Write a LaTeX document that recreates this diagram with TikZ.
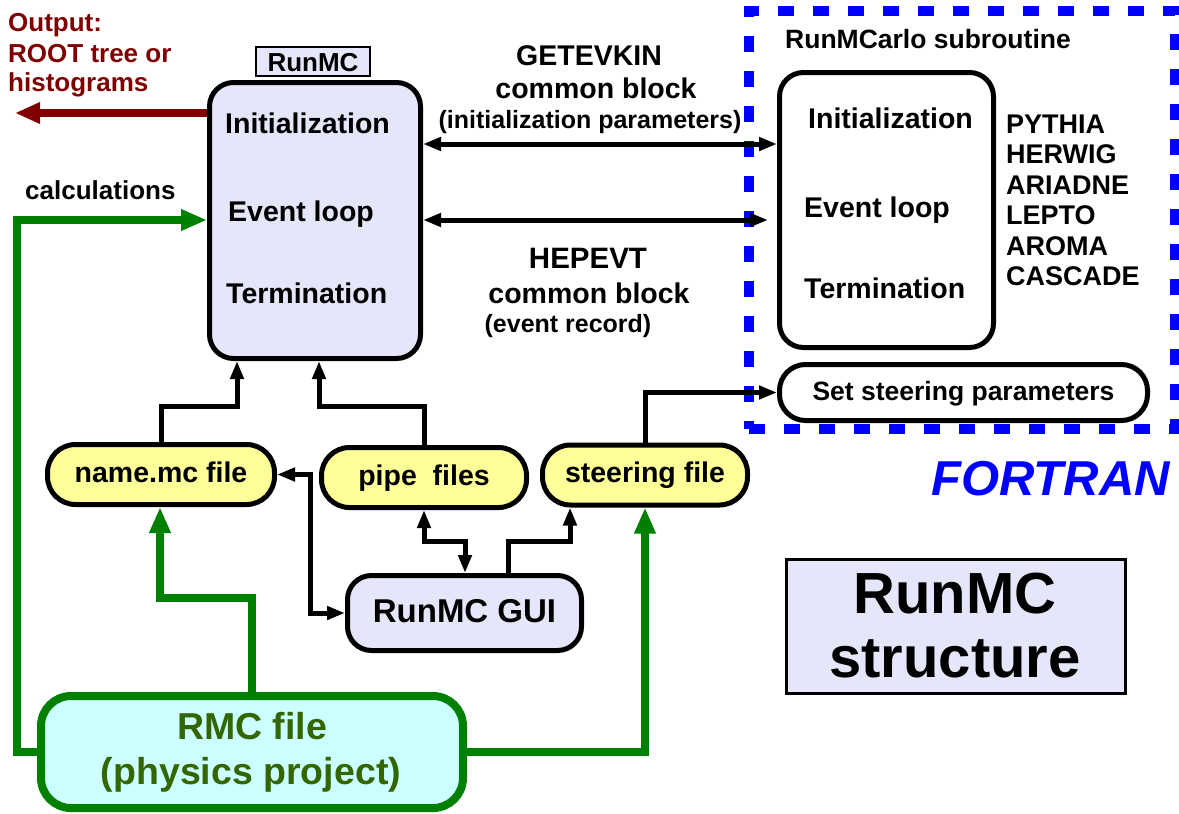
\documentclass[tikz,border=0pt]{standalone}
\usepackage{fontspec}
\setmainfont{Liberation Sans}
\usetikzlibrary{arrows.meta}
\definecolor{lav}{HTML}{E6E6FA}
\definecolor{yel}{HTML}{FFFF99}
\definecolor{cyl}{HTML}{CCFFFF}
\definecolor{grn}{HTML}{008000}
\definecolor{dred}{HTML}{800000}
\definecolor{olv}{HTML}{336600}
\newcommand\fsz[1]{\fontsize{#1}{#1}\selectfont}
\begin{document}
\begin{tikzpicture}[x=1pt,y=-1pt,
  txt/.style={inner sep=0pt,anchor=base,font=\bfseries\fsz{28.5}},
  txtw/.style={txt,anchor=base west},
  bigbox/.style={draw=black,line width=5pt,rounded corners=24pt,inner sep=0pt},
  pill/.style={draw=black,line width=5pt,fill=yel,rounded corners=28pt,inner sep=0pt,
    minimum width=227pt,minimum height=60pt,text height=15pt,text depth=0pt,font=\bfseries\fsz{28.5}},
  barr/.style={line width=5pt,-{Triangle[length=18pt,width=13pt]}},
  bdarr/.style={line width=5pt,{Triangle[length=18pt,width=13pt]}-{Triangle[length=18pt,width=13pt]}},
  garr/.style={line width=8pt,draw=grn,-{Triangle[length=26pt,width=20pt]}},
  rarr/.style={line width=8pt,draw=dred,-{Triangle[length=25pt,width=20pt]}}]
\useasboundingbox (0,0) rectangle (1179,814);

% FORTRAN dashed frame
\node (fbox) [draw=blue,line width=9.5pt,dash pattern=on 16pt off 19pt,
  minimum width=426pt,minimum height=418pt,inner sep=0pt] at (962,220) {};
\node (fortran) [inner sep=0pt,anchor=base east,text=blue,font=\bfseries\itshape\fsz{49}] at (1170,495) {FORTRAN};

% main RunMC box
\node (main) [bigbox,fill=lav,minimum width=211pt,minimum height=276pt] at (315,220.5) {};
\node (tab) [draw=black,line width=2.5pt,fill=lav,inner sep=0pt,minimum width=114pt,minimum height=29pt,
  text height=19pt,text depth=0pt,font=\bfseries\fsz{26}] at (313,61.5) {RunMC};
\node (mInit) [txtw] at (225,133) {Initialization};
\node (mLoop) [txtw] at (228,221) {Event loop};
\node (mTerm) [txtw] at (226,303) {Termination};

% output and calculations
\node (out1) [txtw,text=dred,font=\bfseries\fsz{26}] at (8,31) {Output:};
\node (out2) [txtw,text=dred,font=\bfseries\fsz{26}] at (8,62) {ROOT tree or};
\node (out3) [txtw,text=dred,font=\bfseries\fsz{26}] at (8,91) {histograms};
\node (calc) [txtw,font=\bfseries\fsz{26}] at (25,199) {calculations};

% common blocks
\node (get1) [txt] at (589,65) {GETEVKIN};
\node (get2) [txt] at (596,98) {common block};
\node (get3) [txt,font=\bfseries\fsz{25}] at (590,128) {(initialization parameters)};
\node (hep1) [txt,font=\bfseries\fsz{29.5}] at (588,268) {HEPEVT};
\node (hep2) [txt] at (589,303) {common block};
\node (hep3) [txt,font=\bfseries\fsz{25}] at (568,332) {(event record)};

% RunMCarlo
\node (mcTitle) [txtw,font=\bfseries\fsz{26.5}] at (785,48) {RunMCarlo subroutine};
\node (mc) [bigbox,fill=white,minimum width=214pt,minimum height=275pt] at (886.5,210) {};
\node (mcInit) [txtw] at (808,128) {Initialization};
\node (mcLoop) [txtw] at (804,217) {Event loop};
\node (mcTerm) [txtw] at (804,298) {Termination};
\node (g1) [txtw,font=\bfseries\fsz{27}] at (1006,133) {PYTHIA};
\node (g2) [txtw,font=\bfseries\fsz{27}] at (1006,163) {HERWIG};
\node (g3) [txtw,font=\bfseries\fsz{27}] at (1006,194) {ARIADNE};
\node (g4) [txtw,font=\bfseries\fsz{27}] at (1006,224) {LEPTO};
\node (g5) [txtw,font=\bfseries\fsz{27}] at (1006,255) {AROMA};
\node (g6) [txtw,font=\bfseries\fsz{27}] at (1006,285) {CASCADE};
\node (setsteer) [pill,fill=white,minimum width=368pt,minimum height=56pt,rounded corners=26pt,
  font=\bfseries\fsz{26.5}] at (963.5,392.5) {Set steering parameters};

% files
\node (namemc) [pill] at (161,474.5) {name.mc file};
\node (pipe) [pill,minimum width=205pt] at (424,477.5) {pipe\ \ files};
\node (steer) [pill,minimum width=205pt,text height=14pt] at (645,475) {steering file};
\node (gui) [bigbox,fill=lav,minimum width=234pt,minimum height=75pt,text height=18pt,text depth=0pt,
  font=\bfseries\fsz{33}] at (464.5,613) {RunMC GUI\hspace{14pt}};
\node (rmc) [draw=grn,line width=8pt,fill=cyl,rounded corners=30pt,minimum width=422pt,minimum height=112pt,inner sep=0pt] at (252,752) {};
\node (rmcT1) [txt,text=olv,font=\bfseries\fsz{37.5}] at (252,739) {RMC file};
\node (rmcT2) [txt,text=olv,font=\bfseries\fsz{37.5}] at (251,784) {(physics project)};

% structure box
\node (struct) [draw=black,line width=3pt,fill=lav,minimum width=339pt,minimum height=134pt,inner sep=0pt] at (956,626.5) {};
\node (st1) [txt,font=\bfseries\fsz{58}] at (955,613) {RunMC};
\node (st2) [txt,font=\bfseries\fsz{58}] at (955,677) {structure};

% helper coordinates
\coordinate (c1) at (237,406);
\coordinate (c2) at (319,406);
\coordinate (c3) at (310,540);
\coordinate (c4) at (465,541);
\coordinate (c5) at (508,541);
\coordinate (c6) at (570,541);
\coordinate (c7) at (160,598);
\coordinate (c8) at (17,220);
\coordinate (c9) at (0,113);
\coordinate (c10) at (15,113);
\coordinate (c11) at (0,144);
\coordinate (c12) at (0,220);
\coordinate (c13) at (768,220);

% connectors
\draw[rarr] (main.west |- c9) -- (c10);
\draw[bdarr] (main.east |- c11) -- (mc.west |- c11);
\draw[bdarr] (main.east |- c12) -- (c13);
\draw[barr] (namemc.north) |- (c1) -- (c1 |- main.south);
\draw[barr] (pipe.north) |- (c2) -- (c2 |- main.south);
\draw[barr] (steer.north) |- (setsteer.west);
\draw[bdarr] (namemc.east) -| (c3) |- (gui.west);
\draw[bdarr] (pipe.south) |- (c4) -- (c4 |- gui.north);
\draw[barr] (c5 |- gui.north) -- (c5) -| (c6 |- steer.south);
\draw[garr] (rmc.north) |- (c7) -- (c7 |- namemc.south);
\draw[garr] (rmc.east) -| (steer.south);
\draw[garr] (rmc.west) -| (c8) -- (c8 -| main.west);
\end{tikzpicture}
\end{document}
